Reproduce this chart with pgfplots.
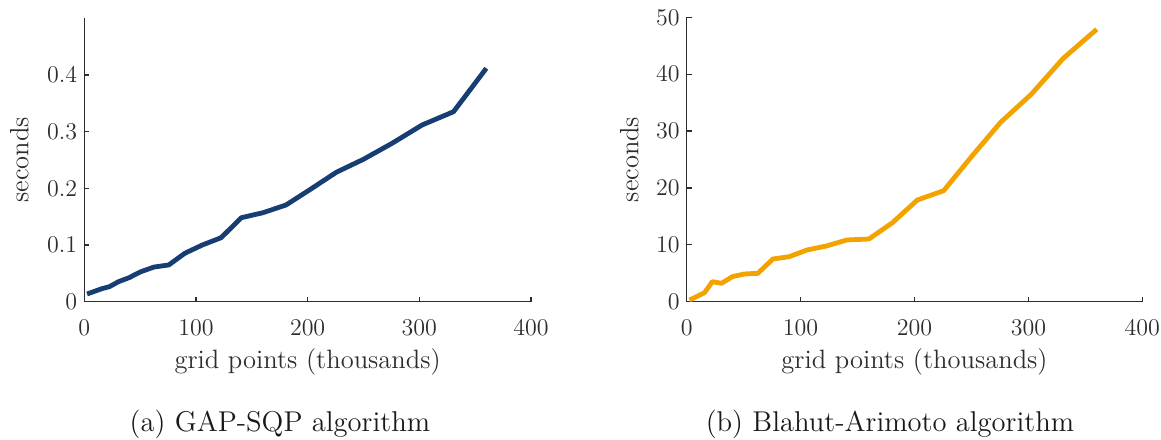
\documentclass[border=0pt]{standalone}
\usepackage{pgfplots}
\pgfplotsset{compat=1.18}
\definecolor{sqpblue}{RGB}{22,62,115}
\definecolor{baorange}{RGB}{242,163,0}
\definecolor{axgray}{RGB}{45,45,45}

\pgfplotstableread{
x y
2.5 0.0136
15.625 0.0229
22.5 0.0265
30.625 0.0353
40 0.0423
50.625 0.0529
62.5 0.0612
75.625 0.0648
90 0.0854
105.625 0.1000
122.5 0.1129
140.625 0.1482
160 0.1570
180.625 0.1706
202.5 0.1983
225.625 0.2283
250 0.2513
275.625 0.2795
302.5 0.3118
330.625 0.3352
360 0.4118
}\sqpdata

\pgfplotstableread{
x y
2.5 0.3
15.625 1.58
22.5 3.52
30.625 3.23
40 4.40
50.625 4.87
62.5 4.99
75.625 7.51
90 7.91
105.625 9.09
122.5 9.79
140.625 10.85
160 11.02
180.625 13.89
202.5 17.88
225.625 19.52
250 25.49
275.625 31.54
302.5 36.46
330.625 42.79
360 47.89
}\badata

\pgfplotsset{mystyle/.style={
  scale only axis,
  axis lines=left,
  axis line style={-, draw=axgray, line width=0.6pt},
  tick align=inside,
  major tick length=2.4pt,
  tick style={draw=axgray, line width=0.6pt},
  xmin=0, xmax=400, xtick={0,100,200,300,400},
  ymin=0,
  ticklabel style={font=\fontsize{11.6}{13}\selectfont, text=axgray},
  xticklabel style={anchor=base, yshift=-16.65pt},
  label style={font=\fontsize{13.27}{15}\selectfont, text=axgray},
  xlabel={grid points (thousands)},
  ylabel={seconds},
  clip=false,
}}

\begin{document}
\begin{tikzpicture}
\path[use as bounding box] (0,0) rectangle (580.5pt,219.5pt);

\begin{axis}[mystyle,
  at={(42.15pt,68.65pt)}, anchor=south west,
  width=223.35pt, height=141.7pt,
  ymax=0.5, ytick={0,0.1,0.2,0.3,0.4},
  xlabel style={at={(axis description cs:0.5,-0.235)}, anchor=base},
  ylabel style={at={(axis description cs:-0.1254,0.5)}, anchor=base},
]
\addplot[color=sqpblue, line width=2.4pt, line join=round] table[x=x,y=y] {\sqpdata};
\node[anchor=base, font=\fontsize{14.3}{16}\selectfont, text=black!90] at (axis description cs:0.438,-0.4587) {(a) GAP-SQP algorithm};
\end{axis}

\begin{axis}[mystyle,
  at={(343.35pt,68.65pt)}, anchor=south west,
  width=227.8pt, height=142.2pt,
  ymax=50, ytick={0,10,20,30,40,50},
  xlabel style={at={(axis description cs:0.5,-0.2342)}, anchor=base},
  ylabel style={at={(axis description cs:-0.1062,0.5)}, anchor=base},
]
\addplot[color=baorange, line width=2.4pt, line join=round] table[x=x,y=y] {\badata};
\node[anchor=base, font=\fontsize{14.3}{16}\selectfont, text=black!90] at (axis description cs:0.4462,-0.4571) {(b) Blahut-Arimoto algorithm};
\end{axis}
\end{tikzpicture}
\end{document}
